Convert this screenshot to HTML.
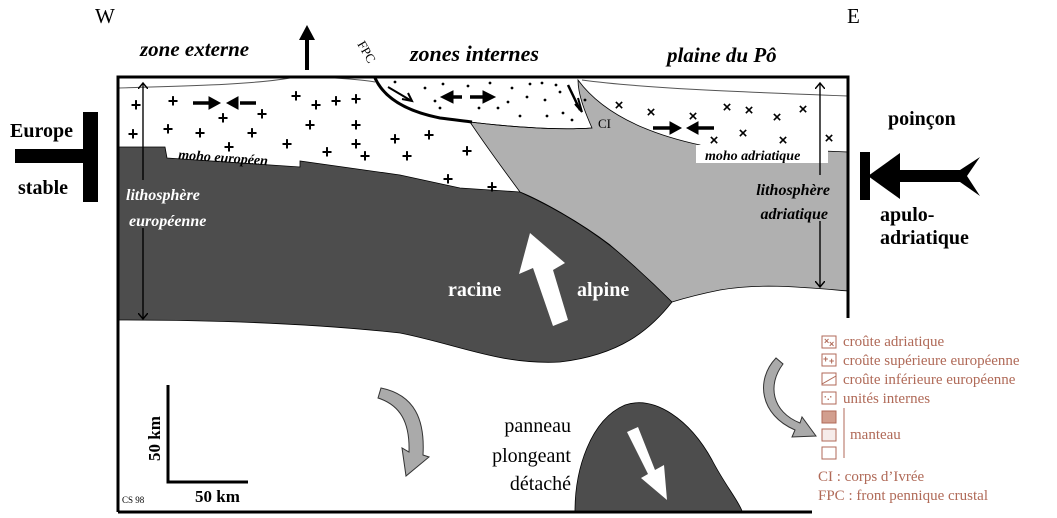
<!DOCTYPE html>
<html><head><meta charset="utf-8"><style>
body{margin:0;background:#fff}
svg{display:block}
.b{font-family:"Liberation Serif",serif;font-weight:bold}
.bi{font-family:"Liberation Serif",serif;font-weight:bold;font-style:italic}
.r{font-family:"Liberation Serif",serif}
.lg{font-family:"Liberation Serif",serif;fill:#b06a58;font-size:15px}
</style></head><body>
<svg width="1057" height="518" viewBox="0 0 1057 518" xmlns="http://www.w3.org/2000/svg">
<defs>
<marker id="ah" markerWidth="10" markerHeight="10" refX="5" refY="5" orient="auto" markerUnits="userSpaceOnUse"><path d="M0,0 L6,5 L0,10" fill="none" stroke="#000" stroke-width="1.5"/></marker>
</defs>
<path d="M118,147 L165,147 L167,158 L300,167 L300,161 L400,175 L460,188 L520,192 C560,210 600,235 630,262 C650,280 665,295 672,302 C650,330 620,355 560,362 C500,365 460,345 400,333 C300,322 200,320 118,320 Z" fill="#4d4d4d" stroke="#000" stroke-width="0.8"/>
<path d="M470,122 C520,128 560,130 592,128 C585,112 578,95 578,80 C600,110 640,132 700,145 L700,146 L848,152 L848,291 C800,287 760,283 720,290 C700,294 685,298 672,302 C650,280 630,262 610,245 C580,222 540,200 520,192 C500,165 482,140 470,122 Z" fill="#b0b0b0" stroke="#000" stroke-width="0.8"/>
<rect x="696" y="145" width="132" height="18" fill="#fff"/>
<path d="M118,88 C180,86 250,85 290,78" fill="none" stroke="#555" stroke-width="1"/>
<path d="M335,78 C350,79 365,80 375,82" fill="none" stroke="#555" stroke-width="1"/>
<path d="M582,80 C640,88 740,92 848,96" fill="none" stroke="#555" stroke-width="1"/>
<path d="M375,78 C385,100 410,112 440,118 C455,120 465,121 472,122" fill="none" stroke="#000" stroke-width="3"/>
<path d="M470,122 C520,128 560,130 592,128" fill="none" stroke="#000" stroke-width="0.8"/>
<path d="M568,85 L580,110" stroke="#000" stroke-width="2.5"/>
<path d="M578,98 L582,112 L575,104" fill="none" stroke="#000" stroke-width="2"/>
<path d="M388,87 L410,100" stroke="#000" stroke-width="2"/><path d="M402,99 L412,101 L408,93" fill="none" stroke="#000" stroke-width="2"/>
<g fill="#000">
<circle cx="395" cy="82" r="1.4"/><circle cx="425" cy="88" r="1.4"/><circle cx="435" cy="101" r="1.4"/><circle cx="443" cy="84" r="1.4"/><circle cx="468" cy="86" r="1.4"/><circle cx="490" cy="83" r="1.4"/><circle cx="512" cy="88" r="1.4"/><circle cx="530" cy="84" r="1.4"/><circle cx="498" cy="108" r="1.4"/><circle cx="479" cy="108" r="1.4"/><circle cx="508" cy="102" r="1.4"/><circle cx="527" cy="97" r="1.4"/><circle cx="545" cy="100" r="1.4"/><circle cx="560" cy="92" r="1.4"/><circle cx="547" cy="116" r="1.4"/><circle cx="563" cy="113" r="1.4"/><circle cx="572" cy="120" r="1.4"/><circle cx="520" cy="116" r="1.4"/><circle cx="542" cy="83" r="1.4"/><circle cx="556" cy="85" r="1.4"/><circle cx="440" cy="108" r="1.4"/><circle cx="585" cy="100" r="1.4"/>
</g>
<g font-family="Liberation Sans,sans-serif" font-weight="bold" font-size="18" text-anchor="middle">
<text x="136" y="111">+</text><text x="173" y="107">+</text><text x="133" y="140">+</text><text x="168" y="135">+</text><text x="200" y="139">+</text><text x="223" y="124">+</text><text x="262" y="120">+</text><text x="252" y="139">+</text><text x="296" y="102">+</text><text x="316" y="111">+</text><text x="336" y="107">+</text><text x="356" y="131">+</text><text x="356" y="105">+</text><text x="310" y="131">+</text><text x="287" y="150">+</text><text x="327" y="158">+</text><text x="356" y="150">+</text><text x="365" y="162">+</text><text x="395" y="145">+</text><text x="407" y="162">+</text><text x="429" y="141">+</text><text x="448" y="185">+</text><text x="467" y="157">+</text><text x="492" y="193">+</text><text x="229" y="153">+</text>
</g>
<g font-family="Liberation Sans,sans-serif" font-weight="bold" font-size="15" text-anchor="middle">
<text x="619" y="110">×</text><text x="651" y="117">×</text><text x="693" y="121">×</text><text x="727" y="112">×</text><text x="749" y="115">×</text><text x="777" y="122">×</text><text x="803" y="114">×</text><text x="714" y="145">×</text><text x="743" y="138">×</text><text x="783" y="145">×</text><text x="829" y="143">×</text>
</g>
<g stroke="#000" stroke-width="3.5" fill="#000">
<path d="M193,103 L212,103"/><path d="M209,97 L220,103 L209,109Z" stroke-width="1"/>
<path d="M240,103 L256,103"/><path d="M238,97 L227,103 L238,109Z" stroke-width="1"/>
<path d="M450,97 L462,97"/><path d="M453,91 L441,97 L453,103Z" stroke-width="1"/>
<path d="M470,97 L484,97"/><path d="M483,91 L495,97 L483,103Z" stroke-width="1"/>
<path d="M653,128 L671,128"/><path d="M670,122 L681,128 L670,134Z" stroke-width="1"/>
<path d="M697,128 L714,128"/><path d="M698,122 L687,128 L698,134Z" stroke-width="1"/>
</g>
<line x1="143" y1="84" x2="143" y2="318" stroke="#000" stroke-width="1.2" marker-end="url(#ah)"/>
<line x1="143" y1="318" x2="143" y2="84" stroke="#000" stroke-width="1.2" marker-end="url(#ah)"/>
<line x1="820" y1="84" x2="820" y2="286" stroke="#000" stroke-width="1.2" marker-end="url(#ah)"/>
<line x1="820" y1="286" x2="820" y2="84" stroke="#000" stroke-width="1.2" marker-end="url(#ah)"/>
<rect x="125" y="180" width="50" height="48" fill="#4d4d4d"/>
<rect x="780" y="175" width="50" height="46" fill="#b0b0b0"/>
<path d="M118,512 L118,77 L848,77 L848,318" fill="none" stroke="#000" stroke-width="3"/>
<path d="M118,512 L812,512" stroke="#000" stroke-width="3"/>
<path d="M575,511 C575,470 590,420 625,405 C655,395 690,420 712,460 C725,485 738,500 742,511 Z" fill="#4d4d4d" stroke="#000" stroke-width="0.8"/>
<path d="M627,432 L638,427 L655,470 L664,465 L667,500 L641,478 L648,474 Z" fill="#fff"/>
<path d="M553,326 L568,320 L553,270 L565,263 L530,233 L519,274 L533,268 Z" fill="#fff"/>
<path d="M381,388 C415,395 425,420 423,455 L429,457 L406,476 L402,448 L409,452 C410,422 400,405 378,398 Z" fill="#aaa" stroke="#333" stroke-width="1"/>
<path d="M776,358 C755,380 760,415 795,430 L792,437 L816,436 L802,417 L800,423 C772,412 767,385 783,364 Z" fill="#aaa" stroke="#333" stroke-width="1"/>
<path d="M168,385 L168,482 L248,482" fill="none" stroke="#000" stroke-width="3"/>
<text class="b" font-size="17" transform="translate(160,461) rotate(-90)">50 km</text>
<text class="b" font-size="17" x="195" y="502">50 km</text>
<text class="r" font-size="9" x="122" y="503">CS 98</text>
<text class="r" font-size="21" x="95" y="23">W</text>
<text class="r" font-size="21" x="847" y="23">E</text>
<text class="bi" font-size="21" x="140" y="56">zone externe</text>
<text class="bi" font-size="22" x="410" y="61">zones internes</text>
<text class="bi" font-size="21" x="667" y="62">plaine du Pô</text>
<text class="r" font-size="13" transform="translate(357,44) rotate(60)">FPC</text>
<text class="r" font-size="13" x="598" y="128">CI</text>
<path d="M307,70 L307,38" stroke="#000" stroke-width="4"/><path d="M299,40 L307,25 L315,40Z" fill="#000"/>
<text class="bi" font-size="14" x="178" y="159" transform="rotate(4 178 159)">moho européen</text>
<text class="bi" font-size="14" x="705" y="160">moho adriatique</text>
<text class="bi" font-size="16" fill="#fff" x="126" y="200">lithosphère</text>
<text class="bi" font-size="16" fill="#fff" x="129" y="226">européenne</text>
<text class="bi" font-size="16" x="830" y="195" text-anchor="end">lithosphère</text>
<text class="bi" font-size="16" x="828" y="219" text-anchor="end">adriatique</text>
<text class="b" font-size="20" fill="#fff" x="448" y="296">racine</text>
<text class="b" font-size="20" fill="#fff" x="577" y="296">alpine</text>
<text class="r" font-size="20" x="571" y="432" text-anchor="end">panneau</text>
<text class="r" font-size="20" x="571" y="462" text-anchor="end">plongeant</text>
<text class="r" font-size="20" x="571" y="490" text-anchor="end">détaché</text>
<rect x="83" y="112" width="15" height="90" fill="#000"/>
<rect x="15" y="149" width="83" height="14" fill="#000"/>
<text class="b" font-size="20" x="10" y="137">Europe</text>
<text class="b" font-size="20" x="18" y="194">stable</text>
<rect x="860" y="152" width="10" height="48" fill="#000"/>
<path d="M868,176 L900,153 L900,199 Z" fill="#000"/>
<rect x="898" y="170" width="66" height="12" fill="#000"/>
<path d="M960,170 L980,157 L967,176 L980,196 L960,182 Z" fill="#000"/>
<text class="b" font-size="20" x="888" y="125">poinçon</text>
<text class="b" font-size="20" x="880" y="221">apulo-</text>
<text class="b" font-size="20" x="880" y="244">adriatique</text>
<g fill="none" stroke="#b06a58" stroke-width="1">
<rect x="822" y="336" width="14" height="12"/><rect x="822" y="354" width="14" height="12"/><rect x="822" y="373" width="14" height="12"/><rect x="822" y="392" width="14" height="12"/>
<rect x="822" y="411" width="14" height="12" fill="#d29e8e"/><rect x="822" y="429" width="14" height="12" fill="#f6ecea"/><rect x="822" y="447" width="14" height="12"/>
<line x1="844" y1="408" x2="844" y2="458"/>
<path d="M822,384 L836,376"/>
</g>
<g font-size="9" fill="#b06a58" font-family="Liberation Sans,sans-serif" font-weight="bold"><text x="824" y="344">×</text><text x="829" y="347">×</text><text x="823" y="362">+</text><text x="829" y="364">+</text><text x="824" y="400">·.·</text></g>
<text class="lg" x="843" y="346">croûte adriatique</text>
<text class="lg" x="843" y="365">croûte supérieure européenne</text>
<text class="lg" x="843" y="384">croûte inférieure européenne</text>
<text class="lg" x="843" y="403">unités internes</text>
<text class="lg" x="850" y="439">manteau</text>
<text class="lg" x="818" y="481">CI : corps d’Ivrée</text>
<text class="lg" x="818" y="500">FPC : front pennique crustal</text>
</svg>
</body></html>
